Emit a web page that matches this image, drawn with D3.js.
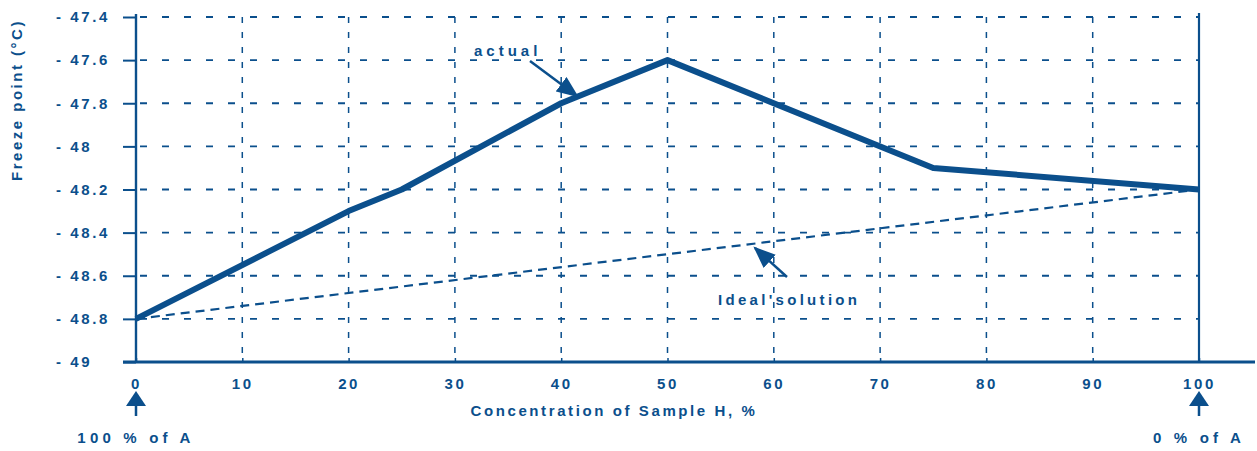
<!DOCTYPE html>
<html>
<head>
<meta charset="utf-8">
<script src="https://cdn.jsdelivr.net/npm/d3@7"></script>
<style>
  body { margin: 0; background: #fff; }
  text { font-family: "Liberation Sans", Arial, sans-serif; font-weight: bold; fill: #0b4f8c; }
</style>
</head>
<body>
<div id="chart"></div>
<script>
// Data
const concentration = [0, 20, 25, 40, 50, 75, 100];
const actualFreeze = [-48.8, -48.3, -48.2, -47.8, -47.6, -48.1, -48.2];
const idealConc = [0, 100];
const idealFreeze = [-48.8, -48.2];
const xTicks = [0, 10, 20, 30, 40, 50, 60, 70, 80, 90, 100];
const yTicks = [-49, -48.8, -48.6, -48.4, -48.2, -48, -47.8, -47.6, -47.4];

const blue = "#0b4f8c";

// Set the size of the SVG element
let width = 1257;
let height = 451;
let margin = {top: 17, right: 58, bottom: 89, left: 136};

let svg = d3.select("#chart").append("svg")
    .attr("width", width)
    .attr("height", height);

// Create the x and y scales
const xScale = d3.scaleLinear().domain([0, 100]).range([margin.left, width - margin.right]);
const yScale = d3.scaleLinear().domain([-49, -47.4]).range([height - margin.bottom, margin.top]);

// Dashed grid lines
svg.append("g")
    .selectAll("line")
    .data(yTicks.slice(1))
    .join("line")
    .attr("x1", xScale(0))
    .attr("x2", xScale(100))
    .attr("y1", d => yScale(d))
    .attr("y2", d => yScale(d))
    .attr("stroke", blue)
    .attr("stroke-width", 1.8)
    .attr("stroke-dasharray", "7,15")
    .attr("stroke-dashoffset", -4);

svg.append("g")
    .selectAll("line")
    .data(xTicks.slice(1, -1))
    .join("line")
    .attr("x1", d => xScale(d))
    .attr("x2", d => xScale(d))
    .attr("y1", yScale(-47.4))
    .attr("y2", yScale(-49))
    .attr("stroke", blue)
    .attr("stroke-width", 1.5)
    .attr("stroke-dasharray", "6,9");

// Y axis
const yAxis = d3.axisLeft(yScale)
    .tickValues(yTicks)
    .tickSize(13)
    .tickFormat(d => "- " + Math.abs(d));

let yG = svg.append("g")
    .attr("transform", `translate(${xScale(0)},0)`)
    .call(yAxis);
yG.select(".domain").remove();
yG.selectAll(".tick line").attr("stroke", blue).attr("stroke-width", 2).attr("x2", -13);
yG.selectAll(".tick text")
    .attr("font-size", 15)
    .style("letter-spacing", "2.6px")
    .attr("text-anchor", "start")
    .attr("x", -80);

// X axis
const xAxis = d3.axisBottom(xScale)
    .tickValues(xTicks)
    .tickSize(4)
    .tickPadding(12);

let xG = svg.append("g")
    .attr("transform", `translate(0,${yScale(-49)})`)
    .call(xAxis);
xG.select(".domain").remove();
xG.selectAll(".tick line").attr("stroke", blue).attr("stroke-width", 1.5).attr("y2", -4);
xG.selectAll(".tick text")
    .attr("font-size", 15)
    .style("letter-spacing", "2.6px");

// Axis lines
svg.append("line")
    .attr("x1", xScale(0)).attr("x2", xScale(0))
    .attr("y1", yScale(-47.4) - 3).attr("y2", yScale(-49))
    .attr("stroke", blue).attr("stroke-width", 2.4);
svg.append("line")
    .attr("x1", xScale(100)).attr("x2", xScale(100))
    .attr("y1", yScale(-47.4) - 4).attr("y2", yScale(-49))
    .attr("stroke", blue).attr("stroke-width", 2.2);
svg.append("line")
    .attr("x1", xScale(0) - 13).attr("x2", width - 2)
    .attr("y1", yScale(-49)).attr("y2", yScale(-49))
    .attr("stroke", blue).attr("stroke-width", 2.8);

const idealData = idealConc.map((c, i) => ({c: c, f: idealFreeze[i]}));
const actualData = concentration.map((c, i) => ({c: c, f: actualFreeze[i]}));

const line = d3.line()
    .x(d => xScale(d.c))
    .y(d => yScale(d.f));

// Ideal solution line (dashed)
svg.append("path")
    .datum(idealData)
    .attr("fill", "none")
    .attr("stroke", blue)
    .attr("stroke-width", 2.2)
    .attr("stroke-dasharray", "9,6")
    .attr("d", line);

// Actual line
svg.append("path")
    .datum(actualData)
    .attr("fill", "none")
    .attr("stroke", blue)
    .attr("stroke-width", 6)
    .attr("stroke-linejoin", "round")
    .attr("d", line);

// Arrow marker
svg.append("defs").append("marker")
    .attr("id", "head")
    .attr("viewBox", "0 0 10 10")
    .attr("refX", 9).attr("refY", 5)
    .attr("markerWidth", 22).attr("markerHeight", 18)
    .attr("markerUnits", "userSpaceOnUse")
    .attr("orient", "auto")
    .attr("preserveAspectRatio", "none")
    .append("path")
    .attr("d", "M0,0 L10,5 L0,10 Z")
    .attr("fill", blue);

// Annotations
svg.append("text")
    .attr("x", 474).attr("y", 56)
    .attr("font-size", 15)
    .style("letter-spacing", "4px")
    .text("actual");
svg.append("line")
    .attr("x1", 530).attr("y1", 61)
    .attr("x2", 577).attr("y2", 96)
    .attr("stroke", blue).attr("stroke-width", 2.5)
    .attr("marker-end", "url(#head)");

svg.append("text")
    .attr("x", 718).attr("y", 305)
    .attr("font-size", 15)
    .style("letter-spacing", "3.3px")
    .text("Ideal'solution");
svg.append("line")
    .attr("x1", 787).attr("y1", 277)
    .attr("x2", 755).attr("y2", 248)
    .attr("stroke", blue).attr("stroke-width", 2.5)
    .attr("marker-end", "url(#head)");

// Axis titles
svg.append("text")
    .attr("transform", "translate(22,100) rotate(-90)")
    .attr("text-anchor", "middle")
    .attr("font-size", 15)
    .style("letter-spacing", "2.5px")
    .text("Freeze point (°C)");

svg.append("text")
    .attr("x", 614).attr("y", 416)
    .attr("text-anchor", "middle")
    .attr("font-size", 15)
    .style("letter-spacing", "2.6px")
    .text("Concentration of Sample H, %");

// Bottom arrows and end labels
const ends = [{c: 0, label: "100 % of A"}, {c: 100, label: "0 % of A"}];
ends.forEach(e => {
    let x = xScale(e.c);
    svg.append("path")
        .attr("d", `M${x - 10},406 L${x},391 L${x + 10},406 Z`)
        .attr("fill", blue);
    svg.append("line")
        .attr("x1", x).attr("x2", x)
        .attr("y1", 404).attr("y2", 416)
        .attr("stroke", blue).attr("stroke-width", 2.5);
    svg.append("text")
        .attr("x", x).attr("y", 443)
        .attr("text-anchor", "middle")
        .attr("font-size", 15)
        .style("letter-spacing", "4.2px")
        .text(e.label);
});
</script>
</body>
</html>
